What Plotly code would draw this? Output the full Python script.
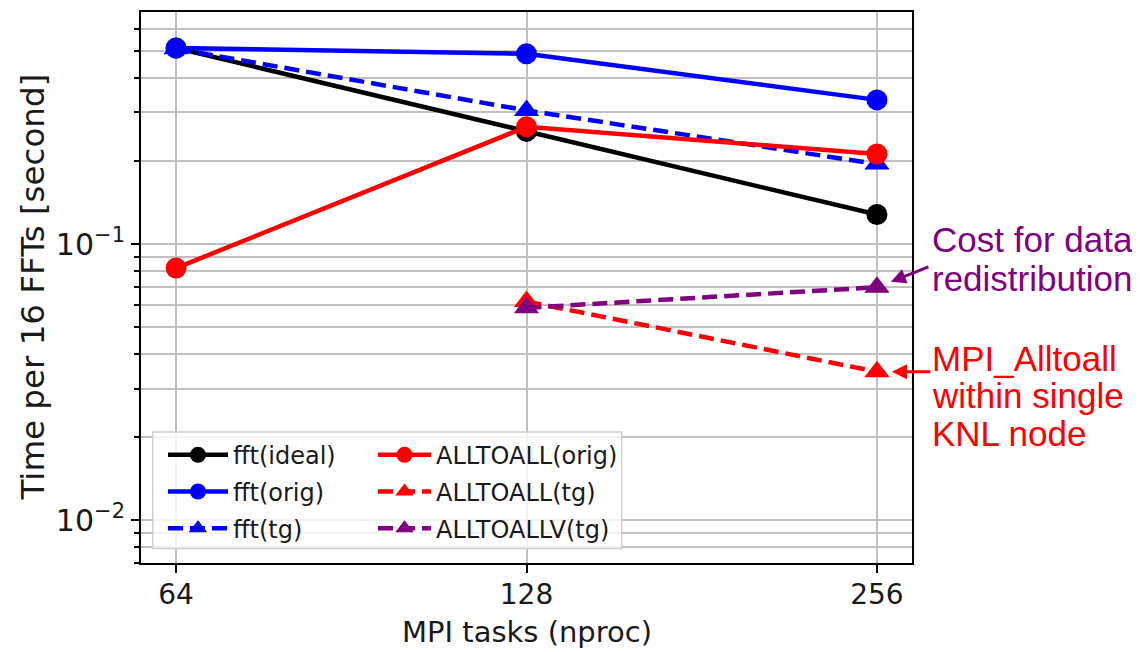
import numpy as np
import plotly.graph_objects as go

nproc = [64, 128, 256]
fft_ideal = [0.513, 0.256, 0.128]
fft_orig = [0.513, 0.489, 0.333]
fft_tg = [0.51, 0.305, 0.195]
a2a_orig = [0.0819, 0.266, 0.212]
a2a_tg_x = [128, 256]
a2a_tg = [0.062, 0.0345]
a2av_tg_x = [128, 256]
a2av_tg = [0.0588, 0.0698]

x_ticks = [64, 128, 256]
x_ticktext = ["64", "128", "256"]
y_major = [0.01, 0.1]
y_major_text = ["10<sup>−2</sup>", "10<sup>−1</sup>"]
y_minor = [m * d for d in (0.001, 0.01, 0.1) for m in range(2, 10)]

FONT = "DejaVu Sans"
AFONT = "Liberation Sans"
TXT = "#1a1a1a"
LW = 4.5

# page offset (browser body margin) and plot-area geometry in screen pixels
OFF = 8
PL, PT, PW, PH = 141, 12, 771, 550.7
def px(sx):
    return (sx - PL) / PW
def py(sy):
    return (PT + PH - sy) / PH

fig = go.Figure()

def add(x, y, name, color, symbol, size, dash, legend):
    fig.add_trace(go.Scatter(
        x=x, y=y, name=name, mode="lines+markers",
        line=dict(color=color, width=LW, dash=dash),
        marker=dict(color=color, size=size, symbol=symbol, line=dict(width=0)),
        legend=legend, legendgroup=name,
    ))

add(nproc, fft_ideal, "fft(ideal)", "black", "circle", 21, "solid", "legend")
add(nproc, fft_orig, "fft(orig)", "blue", "circle", 21, "solid", "legend")
add(nproc, fft_tg, "fft(tg)", "blue", "triangle-up", 22, "15px,7px", "legend")
add(nproc, a2a_orig, "ALLTOALL(orig)", "red", "circle", 21, "solid", "legend2")
add(a2a_tg_x, a2a_tg, "ALLTOALL(tg)", "red", "triangle-up", 22, "15px,7px", "legend2")
add(a2av_tg_x, a2av_tg, "ALLTOALLV(tg)", "purple", "triangle-up", 22, "15px,7px", "legend2")

lg2 = np.log10(2)
xr = [np.log10(x_ticks[0]) - 0.1 * lg2, np.log10(x_ticks[-1]) + 0.1 * lg2]
yr = [np.log10(0.007), np.log10(0.693)]

grid = "#c0c0c0"
fig.update_xaxes(
    type="log", range=xr, tickvals=x_ticks, ticktext=x_ticktext,
    showgrid=True, gridcolor=grid, gridwidth=2,
    showline=True, linecolor="black", linewidth=2, mirror=True,
    ticks="outside", ticklen=8, tickwidth=2, tickcolor="black",
    tickfont=dict(family=FONT, size=28, color=TXT), ticklabelstandoff=-3,
    zeroline=False, automargin=False,
)
fig.update_yaxes(
    type="log", range=yr, tickvals=y_major, ticktext=y_major_text,
    showgrid=True, gridcolor=grid, gridwidth=2,
    showline=True, linecolor="black", linewidth=2, mirror=True,
    ticks="outside", ticklen=8, tickwidth=2, tickcolor="black",
    tickfont=dict(family=FONT, size=30, color=TXT),
    minor=dict(tickvals=y_minor, showgrid=True, gridcolor=grid, gridwidth=2,
               ticks="outside", ticklen=5, tickwidth=1.5, tickcolor="black"),
    zeroline=False, automargin=False,
)

# axis titles
fig.add_annotation(text="MPI tasks (nproc)", xref="paper", yref="paper",
                   x=0.5, y=py(632), xanchor="center", yanchor="middle",
                   showarrow=False, font=dict(family=FONT, size=29, color=TXT))
fig.add_annotation(text="Time per 16 FFTs [second]", xref="paper", yref="paper",
                   x=px(32), y=0.5, xanchor="center", yanchor="middle", textangle=-90,
                   showarrow=False, font=dict(family=FONT, size=32.5, color=TXT))

# legend background box
fig.add_shape(type="rect", xref="paper", yref="paper",
              x0=px(152.7), x1=px(621.7), y0=py(548.3), y1=py(431.7),
              fillcolor="rgba(255,255,255,0.8)", line=dict(color="#d0d0d0", width=1.5),
              layer="above")

legfont = dict(family=FONT, size=24, color=TXT)
W, H = 1140 - OFF, 652 - OFF
fig.update_layout(
    width=W, height=H,
    margin=dict(l=PL - OFF, r=W - (PL - OFF) - PW, t=PT - OFF, b=H - (PT - OFF) - PH),
    plot_bgcolor="white", paper_bgcolor="white",
    legend=dict(x=px(163), y=py(432.5), xanchor="left", yanchor="top", bgcolor="rgba(0,0,0,0)",
                font=legfont, tracegroupgap=2.5, itemwidth=60),
    legend2=dict(x=px(373), y=py(432.5), xanchor="left", yanchor="top", bgcolor="rgba(0,0,0,0)",
                 font=legfont, tracegroupgap=2.5, itemwidth=53),
    showlegend=True,
)

# arrows
fig.add_annotation(x=np.log10(a2av_tg_x[-1]), y=np.log10(a2av_tg[-1]), xref="x", yref="y",
                   ax=53, ay=-21, text="",
                   showarrow=True, arrowhead=2, arrowsize=1, arrowwidth=3,
                   arrowcolor="purple", standoff=15)
fig.add_annotation(x=np.log10(a2a_tg_x[-1]), y=np.log10(a2a_tg[-1]), xref="x", yref="y",
                   ax=55, ay=0, text="",
                   showarrow=True, arrowhead=2, arrowsize=1, arrowwidth=3,
                   arrowcolor="red", standoff=15)

def label(text, sy, color):
    fig.add_annotation(text=text, xref="paper", yref="paper",
                       x=px(930), y=py(sy), xanchor="left", yanchor="middle",
                       showarrow=False, font=dict(family=AFONT, size=35, color=color))

label("Cost for data", 239.6, "purple")
label("redistribution", 277.9, "purple")
label("MPI_Alltoall", 357.9, "red")
label("within single", 395.6, "red")
label("KNL node", 432.9, "red")

fig.write_html("out.html")
